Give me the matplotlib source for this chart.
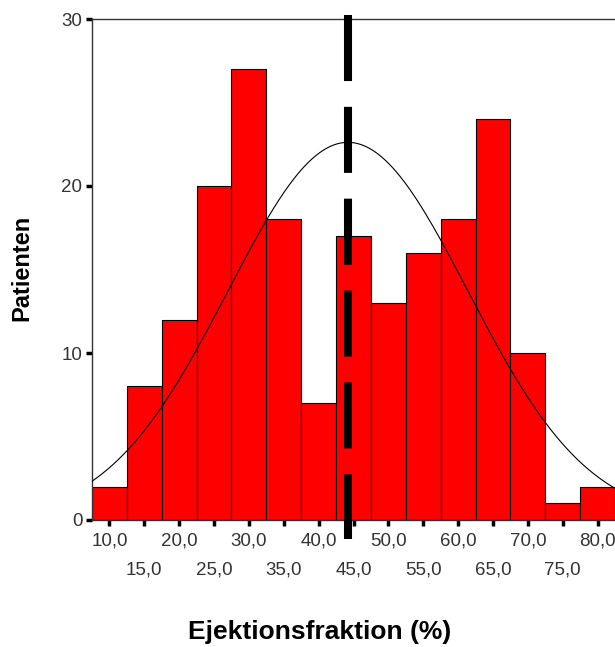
import numpy as np
import matplotlib
matplotlib.use("Agg")
import matplotlib.pyplot as plt

# histogram of ejection fraction, bin centers and counts
bin_centers = [10, 15, 20, 25, 30, 35, 40, 45, 50, 55, 60, 65, 70, 75, 80]
counts = [2, 8, 12, 20, 27, 18, 7, 17, 13, 16, 18, 24, 10, 1, 2]
tick_labels = ["10,0", "15,0", "20,0", "25,0", "30,0", "35,0", "40,0", "45,0",
               "50,0", "55,0", "60,0", "65,0", "70,0", "75,0", "80,0"]
mean_ef = 44.2   # dashed line / fitted normal curve
sd_ef = 17.2
bin_width = 5

plt.rcParams['font.family'] = ['Liberation Sans', 'DejaVu Sans']

fig = plt.figure(figsize=(6.15, 6.47), dpi=100)
ax = fig.add_axes([92/615, 1-520/647, 1-92/615, (520-19)/647])

ax.bar(bin_centers, counts, width=bin_width, color='#ff0000',
       edgecolor='black', linewidth=0.8, zorder=2)

# normal curve scaled to counts
n_total = sum(counts)
xs = np.linspace(7.5, 82.5, 300)
ys = n_total * bin_width / (sd_ef * np.sqrt(2*np.pi)) * np.exp(-(xs-mean_ef)**2 / (2*sd_ef**2))
ax.plot(xs, ys, color='black', linewidth=0.8, zorder=3)

# mean line
ax.plot([mean_ef, mean_ef], [30.25, -1.15], color='black', linewidth=5.8,
        linestyle=(0, (8.2, 3.2)), solid_capstyle='butt', dash_capstyle='butt',
        clip_on=False, zorder=4)

ax.set_xlim(7.5, 82.5)
ax.set_ylim(0, 30)
ax.set_yticks([0, 10, 20, 30])
ax.set_xticks(bin_centers)
ax.set_xticklabels([lab if i % 2 == 0 else "\n" + lab for i, lab in enumerate(tick_labels)],
                   linespacing=1.95)
ax.tick_params(axis='both', direction='out', length=4, width=2.5, color='black',
               labelsize=13.5, labelcolor='#333333')
ax.tick_params(axis='x', pad=5)
ax.tick_params(axis='y', pad=3)
for s in ['left', 'top', 'bottom']:
    ax.spines[s].set_color('#333333')
    ax.spines[s].set_linewidth(1)
ax.spines['right'].set_visible(False)

fig.text(320/615, 1-632/647, "Ejektionsfraktion (%)", fontsize=19, fontweight='bold',
         ha='center', va='center')
fig.text(22/615, 1-268/647, "Patienten", fontsize=17, fontweight='bold',
         ha='center', va='center', rotation=90)

fig.savefig("out.png", dpi=100)
